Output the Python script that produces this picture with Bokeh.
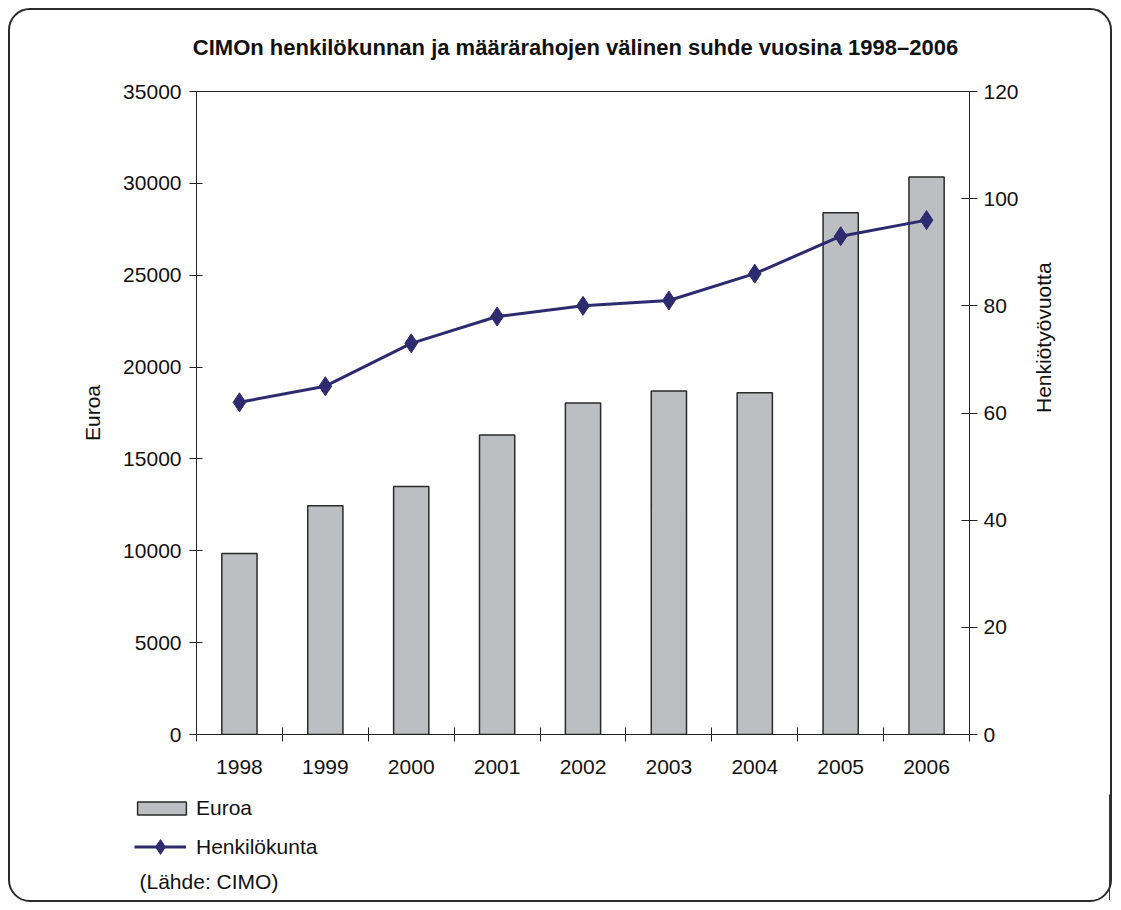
import math
from bokeh.plotting import figure
from bokeh.layouts import column
from bokeh.models import (Range1d, LinearAxis, FixedTicker, SingleIntervalTicker,
                          Legend, LegendItem, Label, ColumnDataSource)
from bokeh.embed import file_html
from bokeh.resources import INLINE

# ---- data ----
years = [1998, 1999, 2000, 2001, 2002, 2003, 2004, 2005, 2006]
euroa = [9850, 12450, 13500, 16300, 18050, 18700, 18600, 28400, 30350]
henkilokunta = [62, 65, 73, 78, 80, 81, 86, 93, 96]
title_text = "CIMOn henkilökunnan ja määrärahojen välinen suhde vuosina 1998–2006"
left_label = "Euroa"
right_label = "Henkiötyövuotta"
series_names = ["Euroa", "Henkilökunta"]
source_text = "(Lähde: CIMO)"

FONT = "Liberation Sans"
DARK = "#222222"
TXT = "#111111"
BAR_FILL = "#bdbec2"
LINE_COL = "#2e2a70"
FS = "21px"
W = 1100


def strip(height):
    f = figure(width=W, height=height, output_backend="svg", toolbar_location=None,
               x_range=Range1d(0, 1), y_range=Range1d(0, 1),
               x_axis_location=None, y_axis_location=None,
               min_border=0, min_border_left=0, min_border_right=0,
               min_border_top=0, min_border_bottom=0)
    f.frame_align = False
    f.outline_line_color = None
    f.xgrid.visible = False
    f.ygrid.visible = False
    f.background_fill_alpha = 0
    f.border_fill_alpha = 0
    return f


src = ColumnDataSource(dict(x=years, euroa=euroa, henk=henkilokunta))

# ---- title strip ----
ts = strip(60)
ts.add_layout(Label(x=565, y=23, x_units="screen", y_units="screen", text=title_text,
                    text_font=FONT, text_font_size="22px", text_font_style="bold",
                    text_color=TXT, text_align="center", text_baseline="middle"))

# ---- main chart ----
p = figure(width=W, height=724, output_backend="svg", toolbar_location=None,
           x_range=Range1d(years[0] - 0.5, years[-1] + 0.5),
           y_range=Range1d(0, 35000),
           min_border_left=186, min_border_right=141,
           min_border_top=21, min_border_bottom=60)
p.frame_align = False
p.background_fill_color = "white"
p.border_fill_alpha = 0
p.outline_line_color = DARK
p.outline_line_width = 1
p.xgrid.visible = False
p.ygrid.visible = False

p.extra_y_ranges = {"right": Range1d(0, 120)}

# bars
bars = p.vbar(x="x", top="euroa", width=0.41, source=src, fill_color=BAR_FILL,
              line_color="#2a2a2a", line_width=1.5)
# line
ln = p.line(x="x", y="henk", source=src, y_range_name="right",
            line_color=LINE_COL, line_width=3)
sc = p.scatter(x="x", y="henk", source=src, y_range_name="right", marker="diamond",
               size=19, fill_color=LINE_COL, line_color=LINE_COL)

# x axis
xa = p.xaxis[0]
xa.ticker = FixedTicker(ticks=years, minor_ticks=[y - 0.5 for y in years] + [years[-1] + 0.5])
xa.major_tick_in = 0
xa.major_tick_out = 0
xa.minor_tick_in = 7
xa.minor_tick_out = 7
xa.minor_tick_line_color = DARK
xa.axis_line_color = DARK
xa.major_label_standoff = 18
xa.major_label_text_font = FONT
xa.major_label_text_font_size = FS
xa.major_label_text_color = TXT

# left axis
ya = p.yaxis[0]
ya.ticker = SingleIntervalTicker(interval=5000)
ya.minor_tick_line_color = None
ya.major_tick_in = 6
ya.major_tick_out = 7
ya.major_tick_line_color = DARK
ya.axis_line_color = DARK
ya.major_label_standoff = 8
ya.major_label_text_font = FONT
ya.major_label_text_font_size = FS
ya.major_label_text_color = TXT
ya.axis_label = left_label
ya.axis_label_text_font = FONT
ya.axis_label_text_font_size = FS
ya.axis_label_text_font_style = "normal"
ya.axis_label_text_color = TXT
ya.axis_label_standoff = 16

# right axis
ra = LinearAxis(y_range_name="right", ticker=SingleIntervalTicker(interval=20))
ra.minor_tick_line_color = None
ra.major_tick_in = 8
ra.major_tick_out = 8
ra.major_tick_line_color = DARK
ra.axis_line_color = DARK
ra.major_label_standoff = 6
ra.major_label_text_font = FONT
ra.major_label_text_font_size = FS
ra.major_label_text_color = TXT
ra.axis_label = right_label
ra.axis_label_text_font = FONT
ra.axis_label_text_font_size = FS
ra.axis_label_text_font_style = "normal"
ra.axis_label_text_color = TXT
ra.axis_label_standoff = 22
ra.axis_label_orientation = math.pi / 2
p.add_layout(ra, "right")

# ---- legend strip ----
q = strip(106)
# legend-only renderers: same series, outside this strip's visible ranges
lb = q.vbar(x="x", top="euroa", source=src, width=0.41, fill_color=BAR_FILL,
            line_color="#2a2a2a", line_width=1.5)
ll = q.line(x="x", y="henk", source=src, line_color=LINE_COL, line_width=3)
ls = q.scatter(x="x", y="henk", source=src, marker="diamond", size=15,
               fill_color=LINE_COL, line_color=LINE_COL)

common = dict(padding=0, spacing=0, margin=0, border_line_alpha=0,
              background_fill_alpha=0, label_text_font=FONT,
              label_text_font_size=FS, label_text_color=TXT)
leg1 = Legend(items=[LegendItem(label=series_names[0], renderers=[lb])],
              location=(121, 80), glyph_width=61, glyph_height=16,
              label_height=24, label_standoff=4, **common)
leg2 = Legend(items=[LegendItem(label=series_names[1], renderers=[ll, ls])],
              location=(124, 35), glyph_width=52, glyph_height=37,
              label_height=24, label_standoff=10, **common)
q.add_layout(leg1)
q.add_layout(leg2)

q.add_layout(Label(x=129, y=19, x_units="screen", y_units="screen", text=source_text,
                   text_font=FONT, text_font_size=FS, text_color=TXT,
                   text_baseline="middle", text_align="left"))

lay = column(ts, p, q, spacing=0)
lay.styles = {"border": "2px solid #2b2b2b", "border-radius": "22px",
              "margin": "8px 0 0 8px", "background": "white"}

open("out.html", "w").write(file_html(lay, INLINE))
